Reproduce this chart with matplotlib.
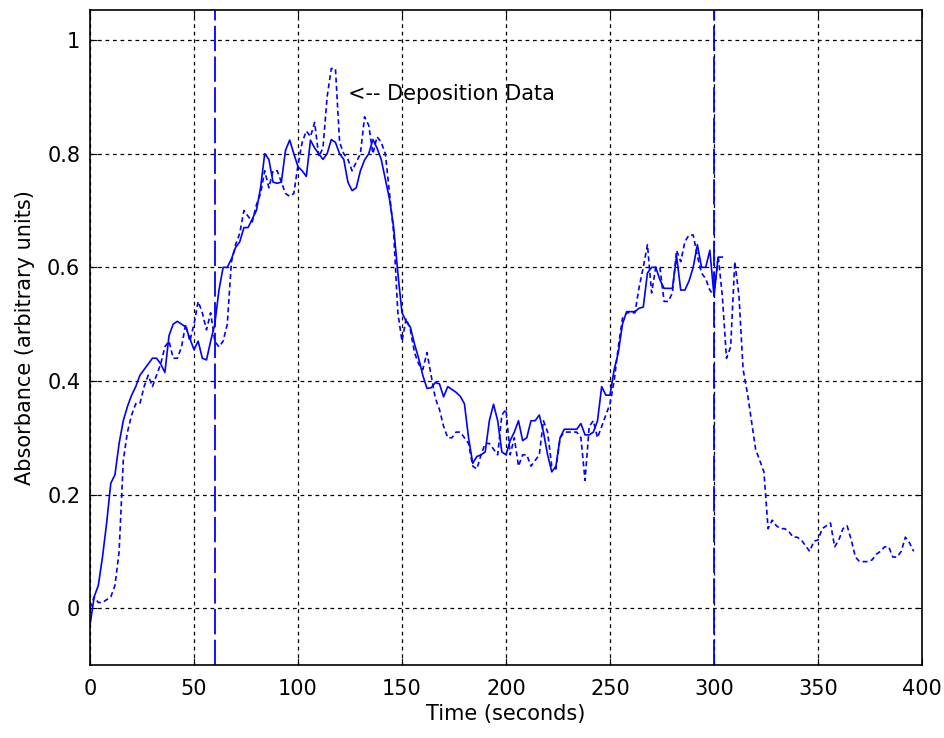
import numpy as np
import matplotlib
matplotlib.use("Agg")
import matplotlib.pyplot as plt

plt.rcParams['font.family'] = ['DejaVu Sans']

# --- data (2-second sampling) ---
solid_t0, solid_dt = 0, 2
solid_values = [
    -0.03, 0.02, 0.04, 0.09, 0.15, 0.22, 0.235, 0.29, 0.33, 0.355,   # 0-18
    0.375, 0.39, 0.41, 0.42, 0.43, 0.44, 0.44, 0.43, 0.415, 0.48,    # 20-38
    0.50, 0.505, 0.50, 0.495, 0.475, 0.455, 0.47, 0.44, 0.437, 0.47, # 40-58
    0.50, 0.56, 0.60, 0.60, 0.615, 0.635, 0.645, 0.67, 0.67, 0.685,  # 60-78
    0.70, 0.74, 0.80, 0.79, 0.75, 0.748, 0.75, 0.806, 0.824, 0.80,   # 80-98
    0.777, 0.77, 0.76, 0.824, 0.81, 0.80, 0.79, 0.80, 0.825, 0.82,   # 100-118
    0.80, 0.79, 0.75, 0.735, 0.74, 0.77, 0.789, 0.80, 0.825, 0.81,   # 120-138
    0.79, 0.755, 0.72, 0.67, 0.59, 0.52, 0.505, 0.495, 0.465, 0.44,  # 140-158
    0.41, 0.387, 0.388, 0.397, 0.395, 0.372, 0.39, 0.385, 0.38, 0.373, # 160-178
    0.36, 0.30, 0.255, 0.267, 0.27, 0.275, 0.33, 0.359, 0.33, 0.275, # 180-198
    0.27, 0.295, 0.31, 0.33, 0.295, 0.30, 0.33, 0.33, 0.34, 0.31,    # 200-218
    0.27, 0.24, 0.25, 0.30, 0.315, 0.315, 0.315, 0.315, 0.325, 0.305, # 220-238
    0.305, 0.31, 0.33, 0.39, 0.375, 0.375, 0.42, 0.45, 0.50, 0.522,  # 240-258
    0.522, 0.522, 0.528, 0.53, 0.59, 0.60, 0.60, 0.578, 0.563, 0.563, # 260-278
    0.563, 0.62, 0.56, 0.56, 0.576, 0.60, 0.64, 0.60, 0.60, 0.63,    # 280-298
    0.55, 0.618, 0.618,                                              # 300-304
]

dashed_t0, dashed_dt = 0, 2
dashed_values = [
    0.0, 0.02, 0.01, 0.01, 0.015, 0.02, 0.04, 0.10, 0.26, 0.31,      # 0-18
    0.34, 0.36, 0.36, 0.39, 0.41, 0.39, 0.41, 0.43, 0.46, 0.47,      # 20-38
    0.44, 0.44, 0.46, 0.50, 0.47, 0.50, 0.54, 0.52, 0.49, 0.52,      # 40-58
    0.47, 0.46, 0.47, 0.50, 0.61, 0.64, 0.66, 0.70, 0.69, 0.68,      # 60-78
    0.71, 0.73, 0.77, 0.74, 0.77, 0.77, 0.75, 0.73, 0.725, 0.73,     # 80-98
    0.78, 0.82, 0.84, 0.83, 0.855, 0.795, 0.81, 0.90, 0.95, 0.95,    # 100-118
    0.82, 0.80, 0.79, 0.77, 0.785, 0.80, 0.865, 0.85, 0.80, 0.83,    # 120-138
    0.82, 0.80, 0.73, 0.66, 0.52, 0.47, 0.51, 0.49, 0.45, 0.43,      # 140-158
    0.42, 0.45, 0.41, 0.37, 0.35, 0.32, 0.30, 0.30, 0.31, 0.31,      # 160-178
    0.30, 0.29, 0.25, 0.245, 0.27, 0.29, 0.29, 0.28, 0.27, 0.34,     # 180-198
    0.35, 0.27, 0.30, 0.25, 0.27, 0.27, 0.25, 0.26, 0.27, 0.33,      # 200-218
    0.31, 0.25, 0.245, 0.30, 0.31, 0.31, 0.31, 0.31, 0.30, 0.225,    # 220-238
    0.32, 0.33, 0.30, 0.32, 0.34, 0.36, 0.40, 0.46, 0.51, 0.52,      # 240-258
    0.52, 0.52, 0.565, 0.60, 0.64, 0.555, 0.60, 0.60, 0.54, 0.54,    # 260-278
    0.555, 0.63, 0.61, 0.645, 0.657, 0.657, 0.62, 0.59, 0.58, 0.56,  # 280-298
    0.55, 0.62, 0.55, 0.44, 0.46, 0.61, 0.55, 0.42, 0.38, 0.33,      # 300-318
    0.28, 0.26, 0.24, 0.14, 0.155, 0.145, 0.14, 0.14, 0.135, 0.125,  # 320-338
    0.125, 0.12, 0.11, 0.10, 0.118, 0.12, 0.14, 0.145, 0.15, 0.108,  # 340-358
    0.12, 0.14, 0.145, 0.12, 0.09, 0.082, 0.082, 0.082, 0.085, 0.095, # 360-378
    0.10, 0.108, 0.108, 0.09, 0.09, 0.10, 0.125, 0.115, 0.10,        # 380-396
]

marker_times = [60, 300]
annotation_text = "<-- Deposition Data"
annotation_pos = (124, 0.905)

x_ticks = [0, 50, 100, 150, 200, 250, 300, 350, 400]
y_ticks = [0, 0.2, 0.4, 0.6, 0.8, 1.0]
y_tick_labels = ["0", "0.2", "0.4", "0.6", "0.8", "1"]

solid_t = solid_t0 + solid_dt * np.arange(len(solid_values))
dashed_t = dashed_t0 + dashed_dt * np.arange(len(dashed_values))

fig = plt.figure(figsize=(9.44, 7.38), dpi=100)
ax = fig.add_axes([90/944, 73/738, (922-90)/944, (665-10)/738])

ax.set_xlim(0, 400)
ax.set_ylim(-0.1, 1.053)

ax.grid(True, color='black', linestyle=(0, (3, 3)), linewidth=0.9)
ax.set_axisbelow(True)

ax.plot(solid_t, solid_values, color='blue', linewidth=1.2)
ax.plot(dashed_t, dashed_values, color='blue', linewidth=1.2,
        linestyle=(0, (3, 2)))

for mt in marker_times:
    ax.axvline(mt, color='blue', linewidth=1.3, linestyle=(0, (14, 3)))

ax.text(annotation_pos[0], annotation_pos[1], annotation_text, fontsize=15,
        ha='left', va='center')

ax.set_xticks(x_ticks)
ax.set_xticklabels([str(v) for v in x_ticks])
ax.set_yticks(y_ticks)
ax.set_yticklabels(y_tick_labels)
ax.tick_params(direction='in', top=True, right=True, labelsize=15, length=5)
ax.tick_params(axis='y', pad=7)
ax.tick_params(axis='x', pad=10)
for s in ax.spines.values():
    s.set_linewidth(1.2)

ax.set_xlabel("Time (seconds)", fontsize=15, labelpad=4)
ax.set_ylabel("Absorbance (arbitrary units)", fontsize=15, labelpad=9)

fig.savefig("out.png", dpi=100)
